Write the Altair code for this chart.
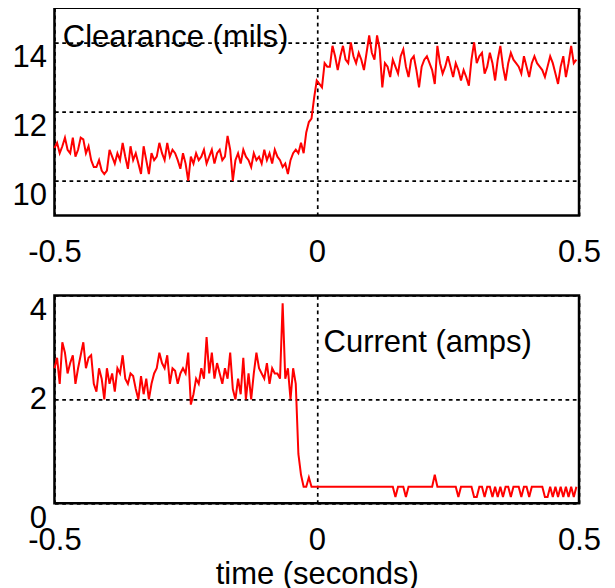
import altair as alt
import pandas as pd

# sampling grid of the recorded traces (seconds)
t_start = -0.5
t_step = 0.005

clearance = [
    10.95, 11.1, 10.8, 11.0, 11.25, 10.9, 10.8, 11.25, 10.7, 10.9,
    11.25, 11.2, 10.8, 11.0, 10.6, 10.4, 10.4, 10.6, 10.3, 10.2,
    10.3, 10.9, 10.7, 10.5, 10.8, 10.6, 11.1, 10.7, 10.35, 11.0,
    10.6, 10.8, 10.5, 10.2, 11.0, 10.6, 10.2, 10.8, 10.6, 10.7,
    11.1, 10.8, 10.6, 11.1, 10.7, 10.9, 10.8, 10.6, 10.35, 10.8,
    10.5, 10.0, 10.7, 10.5, 10.8, 10.6, 10.7, 10.9, 10.5, 10.7,
    10.9, 10.5, 10.8, 10.9, 10.6, 10.7, 11.3, 10.9, 10.0, 10.6,
    10.8, 10.5, 10.9, 10.7, 10.6, 10.4, 10.8, 10.6, 10.7, 10.5,
    10.9, 10.6, 10.8, 10.5, 10.9, 10.7, 10.6, 10.4, 10.5, 10.2,
    10.6, 10.8, 10.9, 10.8, 11.1, 10.8, 11.4, 11.7, 11.8, 12.4,
    12.9, 12.8, 12.7, 13.4, 13.3, 13.3, 13.9, 13.6, 13.2, 13.6,
    13.9, 13.5, 13.4, 14.0, 13.6, 13.4, 13.7, 13.5, 13.2, 13.7,
    14.2, 13.7, 13.5, 14.2, 13.8, 12.7, 13.4, 13.3, 13.0, 13.5,
    13.3, 13.1, 13.6, 13.8, 13.3, 13.0, 13.5, 13.6, 13.2, 12.7,
    13.3, 13.5, 13.6, 13.4, 13.2, 12.8, 13.9, 13.4, 13.1, 13.3,
    13.6, 13.3, 13.0, 13.4, 13.2, 12.9, 13.2, 13.0, 12.75, 13.5,
    14.0, 13.4, 13.6, 13.7, 13.1, 13.3, 13.7, 13.4, 12.9, 13.5,
    13.9, 13.3, 12.9, 13.4, 13.7, 13.5, 13.4, 13.3, 13.1, 13.6,
    13.3, 13.0, 13.4, 13.6, 13.4, 13.3, 13.2, 13.0, 13.3, 13.6,
    13.4, 13.1, 12.8, 13.3, 13.6, 13.0, 13.4, 13.9, 13.4, 13.5,
]

current = [
    2.6, 2.8, 2.3, 3.1, 2.9, 2.5, 2.7, 2.85, 2.3, 2.6,
    2.85, 3.1, 2.6, 2.8, 2.85, 2.3, 2.15, 2.6, 2.4, 2.0,
    2.6, 2.3, 2.5, 2.15, 2.6, 2.5, 2.85, 2.4, 2.3, 2.5,
    2.45, 2.2, 2.0, 2.45, 2.1, 2.4, 2.0, 2.3, 2.5, 2.6,
    2.9, 2.7, 2.6, 2.85, 2.3, 2.6, 2.55, 2.3, 2.5, 2.6,
    2.5, 2.9, 1.9, 2.1, 2.4, 2.3, 2.6, 2.4, 3.2, 2.5,
    2.9, 2.4, 2.7, 2.5, 2.3, 2.6, 2.4, 2.9, 2.2, 2.0,
    2.4, 2.1, 2.8, 2.0, 2.5, 2.0, 2.5, 2.9, 2.6, 2.5,
    2.4, 2.7, 2.3, 2.6, 2.5, 2.5, 2.4, 3.85, 2.4, 2.6,
    2.0, 2.6, 2.3, 0.95, 0.55, 0.32, 0.32, 0.5, 0.32, 0.32,
    0.32, 0.32, 0.32, 0.32, 0.32, 0.32, 0.32, 0.32, 0.32, 0.32,
    0.32, 0.32, 0.32, 0.32, 0.32, 0.32, 0.32, 0.32, 0.32, 0.32,
    0.32, 0.32, 0.32, 0.32, 0.32, 0.32, 0.32, 0.32, 0.32, 0.32,
    0.12, 0.32, 0.32, 0.32, 0.12, 0.32, 0.32, 0.32, 0.32, 0.32,
    0.32, 0.32, 0.32, 0.32, 0.32, 0.55, 0.32, 0.32, 0.32, 0.32,
    0.32, 0.32, 0.32, 0.32, 0.12, 0.32, 0.32, 0.32, 0.32, 0.32,
    0.12, 0.12, 0.32, 0.32, 0.12, 0.32, 0.32, 0.12, 0.32, 0.12,
    0.32, 0.12, 0.32, 0.32, 0.12, 0.32, 0.32, 0.32, 0.12, 0.32,
    0.32, 0.12, 0.32, 0.32, 0.32, 0.32, 0.32, 0.12, 0.12, 0.32,
    0.12, 0.32, 0.12, 0.32, 0.12, 0.32, 0.12, 0.32, 0.12, 0.32,
]

x_ticks = [-0.5, 0, 0.5]
top_ticks = [10, 12, 14]
bottom_ticks = [0, 2, 4]

top_label = ["Clearance (mils)"]
bottom_label = ["Current (amps)"]

n = len(clearance)
time = [round(t_start + i * t_step, 4) for i in range(n)]
df = pd.DataFrame({"time": time, "clearance": clearance, "current": current})

FONT = "Liberation Sans"
FS = 31
RED = "#ff0000"

xscale = alt.Scale(domain=[-0.5, 0.5], nice=False, zero=False)


def x_axis(title=None):
    kw = dict(
        values=x_ticks, grid=True, ticks=False, domain=False, format="~g",
        labelFlush=False, labelOverlap=False, labelPadding=22,
        labelExpr="replace(datum.label, '\u2212', '-')",
    )
    if title:
        return alt.Axis(title=title, titlePadding=4, **kw)
    return alt.Axis(title=None, **kw)


top_line = alt.Chart(df).mark_line(color=RED, strokeWidth=2).encode(
    x=alt.X("time:Q", scale=xscale, axis=x_axis()),
    y=alt.Y("clearance:Q", scale=alt.Scale(domain=[9, 15], nice=False, zero=False),
            axis=alt.Axis(values=top_ticks, title=None, grid=True, ticks=False,
                          domain=False, labelBaseline="top", labelPadding=8,
                          format="~g", labelFlush=False, labelOverlap=False)),
)
top_text = alt.Chart(pd.DataFrame({"t": [-0.484], "v": [13.86], "s": top_label})).mark_text(
    align="left", baseline="alphabetic", fontSize=FS, font=FONT, color="black"
).encode(x="t:Q", y="v:Q", text="s:N")

top = alt.layer(top_line, top_text).properties(width=525, height=208)

bot_line = alt.Chart(df).mark_line(color=RED, strokeWidth=2).encode(
    x=alt.X("time:Q", scale=xscale, axis=x_axis("time (seconds)")),
    y=alt.Y("current:Q", scale=alt.Scale(domain=[0, 4], nice=False, zero=False),
            axis=alt.Axis(values=bottom_ticks, title=None, grid=True, ticks=False,
                          domain=False, labelPadding=8, labelFlush=False,
                          format="~g", labelOverlap=False,
                          labelBaseline={"condition": {"test": "datum.value == 2", "value": "middle"},
                                         "value": "top"})),
)
bot_text = alt.Chart(pd.DataFrame({"t": [0.013], "v": [2.92], "s": bottom_label})).mark_text(
    align="left", baseline="alphabetic", fontSize=FS, font=FONT, color="black"
).encode(x="t:Q", y="v:Q", text="s:N")

bottom = alt.layer(bot_line, bot_text).properties(width=525, height=208)

chart = alt.vconcat(top, bottom, spacing=80, bounds="flush").properties(
    padding={"left": 2.5, "top": -2.5, "right": 5, "bottom": 0}
).configure(font=FONT).configure_view(
    stroke="black", strokeWidth=2.5
).configure_axis(
    labelFont=FONT, labelFontSize=FS, labelColor="black",
    titleFont=FONT, titleFontSize=FS, titleFontWeight="normal", titleColor="black",
    gridColor="black", gridDash=[3.7, 3.6], gridWidth=1.7, gridOpacity=1,
)

chart.save("out.html", embed_options={"renderer": "svg", "actions": False})
